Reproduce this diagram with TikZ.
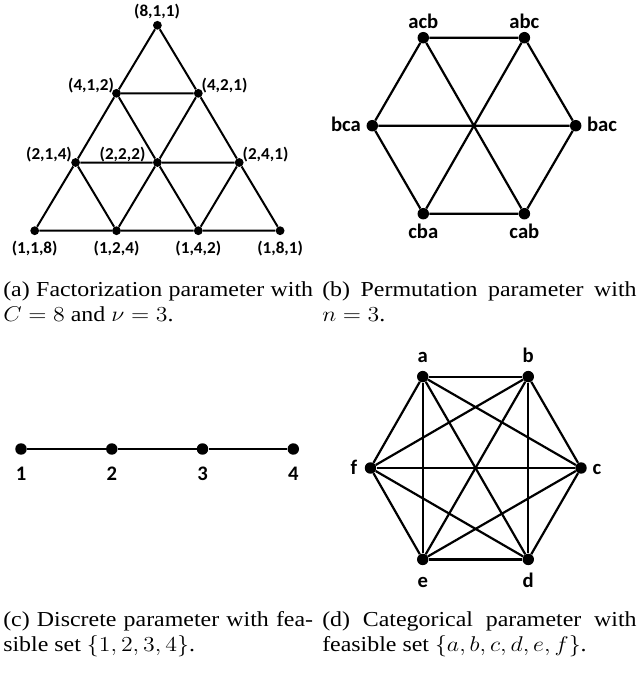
\RequirePackage{fix-cm}
\documentclass[tikz,border=0pt]{standalone}
\usepackage{fontspec}
\usepackage{graphicx}
\setmainfont{Liberation Serif}
\newfontfamily\labf{Carlito}
\newcommand\mylabA[1]{\scalebox{1.03}[1]{\labf\bfseries\fontsize{12.5}{14}\selectfont #1}}
\newcommand\mylabB[1]{\scalebox{1.0}[1]{\labf\bfseries\fontsize{15.5}{17}\selectfont #1}}
\newcommand\mycap[3]{\scalebox{1.12}[1]{\parbox[t]{#1}{\fontsize{16}{18.75}\selectfont\makebox[#1][s]{#2}\par #3}}}
\tikzset{
  dotA/.style={circle, fill=black, inner sep=0pt, minimum size=6.6pt},
  dotB/.style={circle, fill=black, inner sep=0pt, minimum size=8.6pt},
  edgeA/.style={line width=1.5pt},
  edgeB/.style={line width=1.65pt},
  labB/.style={inner sep=0pt, anchor=base},
  capnode/.style={inner sep=0pt, anchor=base west}
}
\begin{document}
\begin{tikzpicture}[x=0.75pt,y=-0.75pt]
\useasboundingbox (0,0) rectangle (641,675);
% ---------- (a) ----------
\node[dotA] (n811) at (157.4,25.3) {};
\node[dotA] (n412) at (116.5,93.3) {};
\node[dotA] (n421) at (198.3,93.3) {};
\node[dotA] (n214) at (75.6,162.5) {};
\node[dotA] (n222) at (157.4,162.5) {};
\node[dotA] (n241) at (239.2,162.5) {};
\node[dotA] (n118) at (34.7,230.7) {};
\node[dotA] (n124) at (116.5,230.7) {};
\node[dotA] (n142) at (198.3,230.7) {};
\node[dotA] (n181) at (280.1,230.7) {};
\draw[edgeA] (n811)--(n412) (n811)--(n421) (n412)--(n421)
  (n412)--(n214) (n412)--(n222) (n421)--(n222) (n421)--(n241)
  (n214)--(n222) (n222)--(n241)
  (n214)--(n118) (n214)--(n124) (n222)--(n124) (n222)--(n142) (n241)--(n142) (n241)--(n181)
  (n118)--(n124) (n124)--(n142) (n142)--(n181);
\node[labB] (l811) at (157,16.7) {\mylabA{(8,1,1)}};
\node[labB] (l412) at (91,90) {\mylabA{(4,1,2)}};
\node[labB] (l421) at (224.5,90) {\mylabA{(4,2,1)}};
\node[labB] (l214) at (49,159) {\mylabA{(2,1,4)}};
\node[labB] (l222) at (122.5,159) {\mylabA{(2,2,2)}};
\node[labB] (l241) at (265.5,159) {\mylabA{(2,4,1)}};
\node[labB] (l118) at (34.7,253) {\mylabA{(1,1,8)}};
\node[labB] (l124) at (116.5,253) {\mylabA{(1,2,4)}};
\node[labB] (l142) at (198.3,253) {\mylabA{(1,4,2)}};
\node[labB] (l181) at (280.1,253) {\mylabA{(1,8,1)}};
% ---------- (b) ----------
\node[dotB] (acb) at (423.3,37.7) {};
\node[dotB] (abc) at (524.4,37.7) {};
\node[dotB] (bca) at (372.3,125.7) {};
\node[dotB] (bac) at (575.7,125.7) {};
\node[dotB] (cba) at (423.3,213.7) {};
\node[dotB] (cab) at (524.4,213.7) {};
\draw[edgeB] (acb)--(abc) (abc)--(bac) (bac)--(cab) (cab)--(cba) (cba)--(bca) (bca)--(acb)
  (acb)--(cab) (abc)--(cba) (bca)--(bac);
\node[labB] (lacb) at (423.3,28.3) {\mylabB{acb}};
\node[labB] (labc) at (524.4,28.3) {\mylabB{abc}};
\node[labB] (lbca) at (346,131) {\mylabB{bca}};
\node[labB] (lbac) at (602,131) {\mylabB{bac}};
\node[labB] (lcba) at (423.3,238) {\mylabB{cba}};
\node[labB] (lcab) at (524.4,238) {\mylabB{cab}};
% ---------- (c) ----------
\node[dotB] (d1) at (21,449) {};
\node[dotB] (d2) at (111.8,449) {};
\node[dotB] (d3) at (202.5,449) {};
\node[dotB] (d4) at (293.3,449) {};
\draw[edgeA] (d1)--(d2) (d2)--(d3) (d3)--(d4);
\node[labB] (l1) at (21,480) {\mylabB{1}};
\node[labB] (l2) at (111.8,480) {\mylabB{2}};
\node[labB] (l3) at (202.5,480) {\mylabB{3}};
\node[labB] (l4) at (293.3,480) {\mylabB{4}};
% ---------- (d) ----------
\node[dotB] (ca) at (422.75,376.6) {};
\node[dotB] (cb) at (528.25,376.6) {};
\node[dotB] (cc) at (581,468) {};
\node[dotB] (cd) at (528.25,559.4) {};
\node[dotB] (ce) at (422.75,559.4) {};
\node[dotB] (cf) at (370.5,468) {};
\foreach \u/\v in {ca/cb,ca/cc,ca/cd,ca/ce,ca/cf,cb/cc,cb/cd,cb/ce,cb/cf,cc/cd,cc/ce,cc/cf,cd/ce,cd/cf,ce/cf}
  \draw[edgeB] (\u)--(\v);
\node[labB] (la) at (422.75,362) {\mylabB{a}};
\node[labB] (lb) at (528.25,362) {\mylabB{b}};
\node[labB] (lc) at (597,474) {\mylabB{c}};
\node[labB] (ld) at (528.25,587) {\mylabB{d}};
\node[labB] (le) at (422.75,587) {\mylabB{e}};
\node[labB] (lf) at (354,474) {\mylabB{f}};
% ---------- captions ----------
\node[capnode] (capa) at (3,296) {\mycap{207.5pt}{(a) Factorization parameter with}{$C=8$ and $\nu=3$.}};
\node[capnode] (capb) at (322,296) {\mycap{210.5pt}{(b) Permutation parameter with}{$n=3$.}};
\node[capnode] (capc) at (3,626) {\mycap{207.5pt}{(c) Discrete parameter with fea-}{sible set $\{1,2,3,4\}$.}};
\node[capnode] (capd) at (322,626) {\mycap{210.5pt}{(d) Categorical parameter with}{feasible set $\{a,b,c,d,e,f\}$.}};
\end{tikzpicture}
\end{document}
